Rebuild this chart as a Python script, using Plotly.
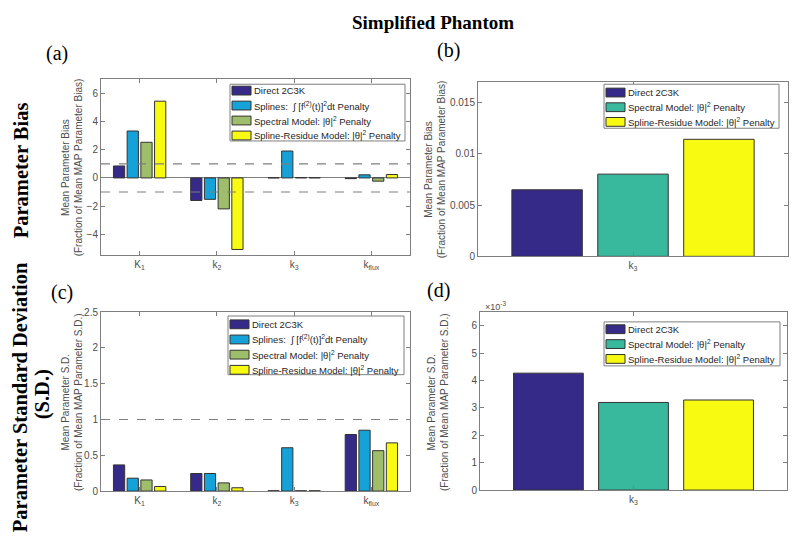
import plotly.graph_objects as go

# ---------------------------------------------------------------- data
PARAMS = ["K<sub>1</sub>", "k<sub>2</sub>", "k<sub>3</sub>", "k<sub>flux</sub>"]
K3 = ["k<sub>3</sub>"]

METHODS4 = [
    "Direct 2C3K",
    "Splines:  ∫ [f<sup>(2)</sup>(t)]<sup>2</sup>dt Penalty",
    "Spectral Model: |θ|<sup>2</sup> Penalty",
    "Spline-Residue Model: |θ|<sup>2</sup> Penalty",
]
METHODS3 = [
    "Direct 2C3K",
    "Spectral Model: |θ|<sup>2</sup> Penalty",
    "Spline-Residue Model: |θ|<sup>2</sup> Penalty",
]

bias_direct = [0.85, -1.60, 0.01, -0.05]
bias_splines = [3.33, -1.52, 1.91, 0.22]
bias_spectral = [2.53, -2.20, 0.02, -0.23]
bias_spline_res = [5.45, -5.08, 0.02, 0.24]

sd_direct = [0.365, 0.245, 0.004, 0.79]
sd_splines = [0.18, 0.245, 0.605, 0.85]
sd_spectral = [0.155, 0.114, 0.004, 0.564]
sd_spline_res = [0.064, 0.046, 0.004, 0.673]

k3_bias = [0.0065, 0.00803, 0.01143]
k3_sd = [0.00427, 0.0032, 0.00329]

SD_TICKS = [0, 0.001, 0.002, 0.003, 0.004, 0.005, 0.006]
SD_TICKTEXT = ["0", "1", "2", "3", "4", "5", "6"]

COLORS4 = ["#352a87", "#14a2d8", "#9fbe6c", "#f8fa12"]
COLORS3 = ["#352a87", "#38b99e", "#f8fa12"]

GRAY = "#7f7f7f"
EDGE = "#333333"
SANS = "Liberation Sans, Arial, sans-serif"
SERIF = "Liberation Serif, Times New Roman, serif"

W, H = 800, 544


def px_x(a, b):
    return [a / W, b / W]


def px_y(top, bottom):
    return [1 - bottom / H, 1 - top / H]


fig = go.Figure()


def add_group(values, names, colors, xcats, axis):
    for vals, name, color in zip(values, names, colors):
        fig.add_bar(
            x=xcats,
            y=vals,
            name=name,
            marker=dict(color=color, line=dict(color=EDGE, width=1)),
            xaxis=axis[0],
            yaxis=axis[1],
            showlegend=False,
        )


add_group([bias_direct, bias_splines, bias_spectral, bias_spline_res], METHODS4, COLORS4,
          PARAMS, ("x", "y"))
add_group([[v] for v in k3_bias], METHODS3, COLORS3, K3, ("x2", "y2"))
add_group([sd_direct, sd_splines, sd_spectral, sd_spline_res], METHODS4, COLORS4,
          PARAMS, ("x3", "y3"))
add_group([[v] for v in k3_sd], METHODS3, COLORS3, K3, ("x4", "y4"))

axis_style = dict(
    showline=True,
    linecolor=GRAY,
    linewidth=1,
    mirror="ticks",
    ticks="inside",
    ticklen=4,
    tickcolor=GRAY,
    showgrid=False,
    zeroline=False,
    tickfont=dict(family=SANS, size=10, color="#4d4d4d"),
)

fig.update_layout(
    xaxis=dict(axis_style, domain=px_x(101, 410), anchor="y"),
    yaxis=dict(axis_style, domain=px_y(75, 255), anchor="x", range=[-5.5, 7], dtick=2,
               zeroline=True, zerolinecolor=GRAY, zerolinewidth=1),
    xaxis2=dict(axis_style, domain=px_x(478, 788), anchor="y2", range=[-0.427, 0.427]),
    yaxis2=dict(axis_style, domain=px_y(78, 256), anchor="x2", range=[0, 0.017], dtick=0.005),
    xaxis3=dict(axis_style, domain=px_x(101, 410), anchor="y3"),
    yaxis3=dict(axis_style, domain=px_y(313, 496), anchor="x3", range=[0, 2.5], dtick=0.5),
    xaxis4=dict(axis_style, domain=px_x(480, 787), anchor="y4", range=[-0.427, 0.427]),
    yaxis4=dict(axis_style, domain=px_y(313, 495), anchor="x4", range=[0, 0.0065],
                tickvals=SD_TICKS, ticktext=SD_TICKTEXT),
)

# reference lines
for yref, levels in (("y", [1, -1]), ("y3", [1])):
    xref = "x domain" if yref == "y" else "x3 domain"
    for lvl in levels:
        fig.add_shape(type="line", xref=xref, yref=yref, x0=0, x1=1, y0=lvl, y1=lvl,
                      line=dict(color=GRAY, width=1.2, dash="dash"))


def paper_rect(x0, y0, x1, y1, **kw):
    fig.add_shape(type="rect", xref="paper", yref="paper",
                  x0=x0 / W, x1=x1 / W, y0=1 - y0 / H, y1=1 - y1 / H, **kw)


def matlab_legend(box, first_row, step, names, colors):
    """MATLAB-style boxed legend: wide colour swatches with compact rows."""
    left, top, right, bottom = box
    paper_rect(left, top, right, bottom, fillcolor="white", line=dict(color=GRAY, width=1))
    for i, (name, color) in enumerate(zip(names, colors)):
        yc = first_row + i * step
        paper_rect(left + 2, yc - 4.5, left + 21, yc + 4.5, fillcolor=color,
                   line=dict(color=EDGE, width=1))
        fig.add_annotation(text=name, x=(left + 22) / W, y=1 - yc / H, xref="paper",
                           yref="paper", showarrow=False, xanchor="left", yanchor="middle",
                           font=dict(family=SANS, size=9.5, color="#262626"))


matlab_legend((230, 80, 405, 138), 86.5, 15.3, METHODS4, COLORS4)
matlab_legend((604, 80, 779, 125), 88.5, 15.0, METHODS3, COLORS3)
matlab_legend((228, 317, 404, 377), 325.5, 15.5, METHODS4, COLORS4)
matlab_legend((604, 323, 780, 368), 330.5, 15.2, METHODS3, COLORS3)

notes = [
    # title, panel letters, row labels
    dict(text="<b>Simplified Phantom</b>", x=433, y=17, size=19, font=SERIF, angle=0),
    dict(text="(a)", x=57, y=49, size=20, font=SERIF, angle=0),
    dict(text="(b)", x=448, y=45, size=20, font=SERIF, angle=0),
    dict(text="(c)", x=62, y=293, size=20, font=SERIF, angle=0),
    dict(text="(d)", x=438, y=291, size=20, font=SERIF, angle=0),
    dict(text="<b>Parameter Bias</b>", x=21, y=168, size=20.5, font=SERIF, angle=-90),
    dict(text="<b>Parameter Standard Deviation</b>", x=20, y=400, size=20.5, font=SERIF,
         angle=-90),
    dict(text="<b>(S.D.)</b>", x=42, y=397, size=20.5, font=SERIF, angle=-90),
]
ytitles = [
    ("Mean Parameter Bias<br>(Fraction of Mean MAP Parameter Bias)", 72, 165),
    ("Mean Parameter Bias<br>(Fraction of Mean MAP Parameter Bias)", 435, 167),
    ("Mean Parameter S.D.<br>(Fraction of Mean MAP Parameter S.D.)", 72, 405),
    ("Mean Parameter S.D.<br>(Fraction of Mean MAP Parameter S.D.)", 438, 405),
]
for text, x, y in ytitles:
    notes.append(dict(text=text, x=x, y=y, size=10, font=SANS, angle=-90, color="#4d4d4d"))
notes.append(dict(text="×10<sup>-3</sup>", x=495, y=307, size=9, font=SANS, angle=0,
                  color="#4d4d4d"))

for n in notes:
    fig.add_annotation(
        text=n["text"],
        x=n["x"] / W,
        y=1 - n["y"] / H,
        xref="paper",
        yref="paper",
        showarrow=False,
        textangle=n["angle"],
        xanchor="center",
        yanchor="middle",
        font=dict(family=n["font"], size=n["size"], color=n.get("color", "black")),
    )

fig.update_layout(
    width=W,
    height=H,
    margin=dict(l=0, r=0, t=0, b=0),
    paper_bgcolor="white",
    plot_bgcolor="white",
    barmode="group",
    bargap=0.29,
    bargroupgap=0.18,
)

# page body has a default 8px margin; drop it so the figure sits at the window origin
fig.write_html(
    "out.html",
    config={"displayModeBar": False},
    post_script="document.body.style.margin = '0';",
)
